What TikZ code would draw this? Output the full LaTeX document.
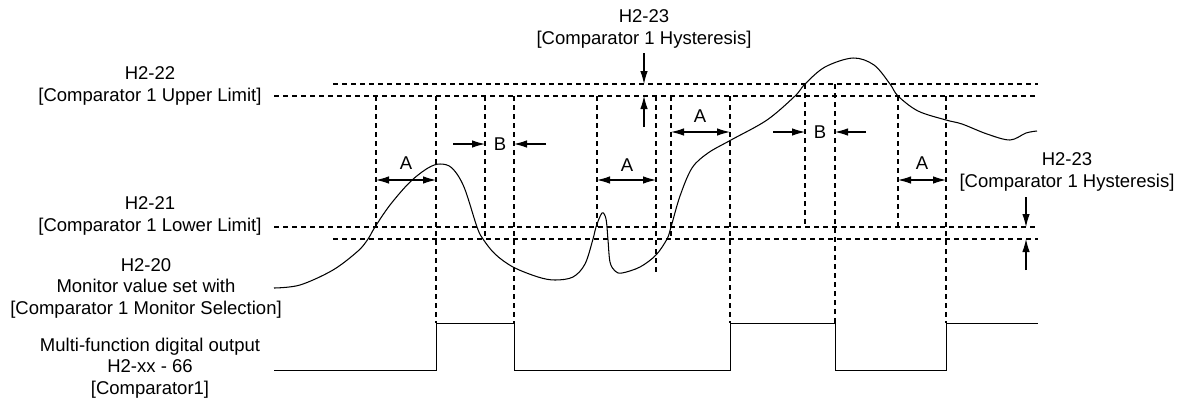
\documentclass[tikz,border=0pt]{standalone}
\usepackage{fontspec}
\setmainfont{Liberation Sans}
\usetikzlibrary{arrows.meta}
\begin{document}
\begin{tikzpicture}[x=1pt,y=-1pt,
  lim/.style={line width=1.05pt, dash pattern=on 5pt off 4pt},
  guide/.style={line width=1.05pt, dash pattern=on 5pt off 4pt},
  sig/.style={line width=1pt, line join=miter},
  curve/.style={line width=1.05pt},
  dim/.style={line width=1.05pt, -{Latex[length=13pt,width=7.5pt]}},
  dimboth/.style={line width=1.05pt, {Latex[length=13pt,width=7.5pt]}-{Latex[length=13pt,width=7.5pt]}},
  lbl/.style={font=\fontsize{18.5}{21.5}\selectfont, align=center, inner sep=0pt},
  letter/.style={font=\fontsize{18.5}{21.5}\selectfont, inner sep=0pt}]

\useasboundingbox (0,0) rectangle (1178,400);

% level lines
\coordinate (uh0) at (333,84);  \coordinate (uh1) at (1038,84);
\coordinate (u0)  at (274,96);  \coordinate (u1)  at (1035,96);
\coordinate (l0)  at (274,227); \coordinate (l1)  at (1035,227);
\coordinate (lh0) at (333,239); \coordinate (lh1) at (1038,239);
\draw[lim] (uh0) -- (uh1);
\draw[lim] (u0) -- (u1);
\draw[lim] (l0) -- (l1);
\draw[lim] (lh0) -- (lh1);

% vertical guides
\foreach \n/\x/\ya/\yb in {1/376/96/227, 2/436/96/323, 3/485/96/239, 4/514/96/323,
  5/597/96/227, 6/656/96/272, 7/671/96/239, 8/730/96/323, 9/805/84/227,
  10/835/84/323, 11/898/96/227, 12/946/96/323}{
  \coordinate (vt\n) at (\x,\ya);
  \coordinate (vb\n) at (\x,\yb);
  \draw[guide] (vt\n) -- (vb\n);
}

% output signal
\draw[sig] (274,370) -- (436,370) -- (436,323) -- (514,323) -- (514,370) -- (730,370)
  -- (730,323) -- (835,323) -- (835,370) -- (946,370) -- (946,323) -- (1038,323);

% monitor value curve
\draw[curve] plot[smooth, tension=0.55] coordinates {
 (274,288) (300,285) (333,270) (358,251) (368,239) (375,227) (390,205) (410,182)
 (428,168) (440,164) (452,168) (464,187) (477,227) (483,239) (495,254) (513,267)
 (538,277) (555,280) (573,277) (585,264) (593,239) (596,227) (602,213) (606,219)
 (608,240) (610,262) (615,271) (622,273) (640,267) (656,255) (667,239) (671,227)
 (680,196) (692,168) (708,153) (731,140) (767,120) (795,96) (805,84) (825,67)
 (853,58) (874,65) (890,84) (898,96) (918,111) (946,120) (962,124) (987,134)
 (1010,140) (1026,133) (1037,131)};

% A / B dimensions
\draw[dimboth] (376,180) -- (436,180);
\node[letter] (a1) at (406,163) {A};
\draw[dim] (453,144) -- (485,144);
\draw[dim] (546,144) -- (514,144);
\node[letter] (b1) at (500,144) {B};
\draw[dimboth] (597,180) -- (656,180);
\node[letter] (a2) at (627,165) {A};
\draw[dimboth] (671,132) -- (730,132);
\node[letter] (a3) at (700,116) {A};
\draw[dim] (773,132) -- (805,132);
\draw[dim] (866,132) -- (835,132);
\node[letter] (b2) at (820,132) {B};
\draw[dimboth] (898,180) -- (946,180);
\node[letter] (a4) at (922,163) {A};

% hysteresis arrows
\coordinate (ht1) at (644,53);  \coordinate (ht2) at (644,84);
\coordinate (ht3) at (644,127); \coordinate (ht4) at (644,96);
\draw[dim] (ht1) -- (ht2);
\draw[dim] (ht3) -- (ht4);
\coordinate (hr1) at (1026,197); \coordinate (hr2) at (1026,227);
\coordinate (hr3) at (1026,270); \coordinate (hr4) at (1026,239);
\draw[dim] (hr1) -- (hr2);
\draw[dim] (hr3) -- (hr4);

% labels
\node[lbl] (htop) at (644,29) {H2-23\\{[}Comparator 1 Hysteresis]};
\node[lbl] (hright) at (1067,172) {H2-23\\{[}Comparator 1 Hysteresis]};
\node[lbl] (upper) at (150,86) {H2-22\\{[}Comparator 1 Upper Limit]};
\node[lbl] (lower) at (150,216) {H2-21\\{[}Comparator 1 Lower Limit]};
\node[lbl] (mon) at (146,288) {H2-20\\Monitor value set with\\{[}Comparator 1 Monitor Selection]};
\node[lbl] (out) at (150,368) {Multi-function digital output\\H2-xx - 66\\{[}Comparator1]};
\end{tikzpicture}
\end{document}
